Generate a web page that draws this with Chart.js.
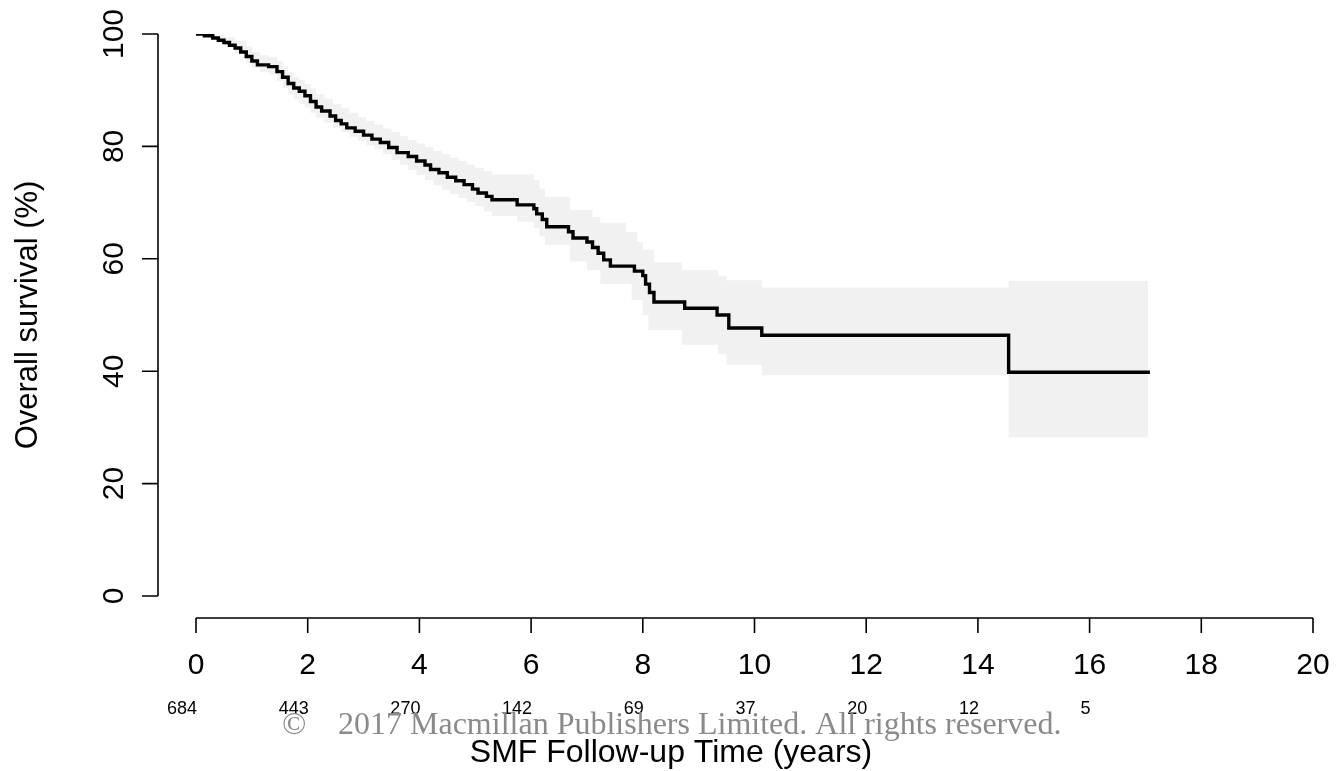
<!DOCTYPE html>
<html>
<head>
<meta charset="utf-8">
<title>Overall survival</title>
<script src="https://cdn.jsdelivr.net/npm/chart.js@4.4.1/dist/chart.umd.min.js"></script>
<style>
    body { margin: 0; background: #ffffff; }
    canvas { display: block; }
</style>
</head>
<body>
<canvas id="SurvivalChart" width="1340" height="771"></canvas>
<script>
// Kaplan-Meier step points (years, %)
var kmTimes = [0, 0.15, 0.3, 0.4, 0.5, 0.6, 0.7, 0.8, 0.9, 1.0, 1.1, 1.3, 1.45, 1.55, 1.65, 1.75, 1.85, 1.95,
    2.05, 2.15, 2.25, 2.4, 2.5, 2.6, 2.7, 2.85, 3.0, 3.15, 3.3, 3.45, 3.6, 3.8, 3.95, 4.1, 4.2, 4.35, 4.5,
    4.65, 4.8, 4.95, 5.05, 5.2, 5.3, 5.75, 6.05, 6.1, 6.2, 6.28, 6.67, 6.75, 7.0, 7.1, 7.2, 7.3, 7.42,
    7.85, 8.0, 8.05, 8.12, 8.2, 8.75, 9.33, 9.54, 10.13, 14.55, 17.08];
var kmSurv = [100, 99.7, 99.3, 98.9, 98.5, 98.0, 97.5, 96.8, 96.0, 95.2, 94.5, 94.2, 93.3, 92.3, 91.2, 90.4, 89.8, 89.0,
    88.0, 87.0, 86.3, 85.4, 84.6, 84.0, 83.3, 82.7, 82.0, 81.3, 80.7, 79.8, 78.9, 78.2, 77.4, 76.7, 75.9, 75.3, 74.5,
    73.9, 73.2, 72.4, 71.7, 71.1, 70.5, 69.6, 68.9, 68.0, 67.0, 65.7, 64.8, 63.7, 63.0, 62.0, 61.0, 59.8, 58.7,
    57.8, 57.0, 55.5, 54.0, 52.3, 51.2, 50.0, 47.7, 46.4, 39.8, 39.8];

// 95% confidence band
var upperTimes = [0, 0.3, 0.5, 0.7, 0.9, 1.0, 1.15, 1.3, 1.45, 1.55, 1.65, 1.75, 1.85, 1.95, 2.05, 2.15, 2.3,
    2.45, 2.6, 2.75, 2.9, 3.05, 3.2, 3.35, 3.5, 3.65, 3.8, 3.95, 4.1, 4.25, 4.4, 4.55, 4.7, 4.85, 5.0, 5.15,
    5.3, 6.05, 6.15, 6.25, 6.7, 7.1, 7.24, 7.7, 7.9, 8.0, 8.2, 8.7, 9.35, 9.5, 10.13, 14.55, 17.05];
var upperSurv = [100, 99.8, 99.4, 98.8, 97.8, 96.8, 96.2, 95.9, 95.2, 94.2, 93.2, 92.4, 91.8, 91.1, 90.3, 89.3, 88.5,
    87.6, 86.8, 86.0, 85.2, 84.5, 83.9, 83.2, 82.5, 81.8, 81.1, 80.5, 79.9, 79.2, 78.6, 78.0, 77.4, 76.8, 76.2, 75.6,
    75.0, 74.0, 72.5, 71.0, 68.7, 67.5, 66.4, 64.8, 63.0, 61.6, 59.4, 58.0, 57.0, 56.2, 54.9, 56.1, 56.1];
var lowerTimes = [0, 0.3, 0.5, 0.7, 0.9, 1.0, 1.15, 1.3, 1.45, 1.55, 1.65, 1.75, 1.85, 1.95, 2.05, 2.15, 2.3,
    2.45, 2.6, 2.75, 2.9, 3.05, 3.2, 3.35, 3.5, 3.65, 3.8, 3.95, 4.1, 4.25, 4.4, 4.55, 4.7, 4.85, 5.0, 5.15,
    5.3, 5.75, 6.05, 6.15, 6.25, 6.7, 7.0, 7.24, 7.8, 8.0, 8.1, 8.7, 9.35, 9.5, 10.13, 14.55, 17.05];
var lowerSurv = [100, 99.0, 98.0, 96.6, 94.8, 94.0, 93.2, 92.8, 91.6, 90.4, 89.2, 88.4, 87.6, 86.9, 86.0, 85.1, 84.2,
    83.3, 82.5, 81.7, 81.0, 80.2, 79.5, 78.6, 77.6, 76.7, 75.8, 74.9, 74.0, 73.1, 72.3, 71.5, 70.8, 70.1, 69.4, 68.4,
    67.6, 66.6, 65.5, 64.0, 62.5, 59.5, 58.0, 55.5, 52.7, 50.0, 47.3, 44.7, 43.0, 41.1, 39.3, 28.2, 28.2];

// axes and numbers at risk
var xTicks = [0, 2, 4, 6, 8, 10, 12, 14, 16, 18, 20];
var yTicks = [0, 20, 40, 60, 80, 100];
var riskTimes = [0, 2, 4, 6, 8, 10, 12, 14, 16];
var atRisk = [684, 443, 270, 142, 69, 37, 20, 12, 5];

function toPoints(xs, ys) {
    return xs.map((x, i) => ({ x: x, y: ys[i] }));
}

let sansFont = '"Liberation Sans", Arial, Helvetica, sans-serif';
let serifFont = '"Liberation Serif", "Times New Roman", serif';

// R style detached axes, drawn from the chart scales
var baseAxes = {
    id: 'baseAxes',
    afterDraw(chart) {
        let ctx = chart.ctx;
        let xs = chart.scales.x;
        let ys = chart.scales.y;
        let axisY = 618;
        let axisX = 158;
        ctx.save();
        ctx.strokeStyle = '#000000';
        ctx.fillStyle = '#000000';
        ctx.lineWidth = 1.6;

        // x axis
        ctx.beginPath();
        ctx.moveTo(xs.getPixelForValue(0), axisY);
        ctx.lineTo(xs.getPixelForValue(20), axisY);
        xTicks.forEach(t => {
            let px = xs.getPixelForValue(t);
            ctx.moveTo(px, axisY);
            ctx.lineTo(px, axisY + 15);
        });
        ctx.stroke();

        ctx.font = '30px ' + sansFont;
        ctx.textAlign = 'center';
        ctx.textBaseline = 'middle';
        xTicks.forEach(t => {
            ctx.fillText(String(t), xs.getPixelForValue(t), 666);
        });

        // y axis
        ctx.beginPath();
        ctx.moveTo(axisX, ys.getPixelForValue(0));
        ctx.lineTo(axisX, ys.getPixelForValue(100));
        yTicks.forEach(v => {
            let py = ys.getPixelForValue(v);
            ctx.moveTo(axisX, py);
            ctx.lineTo(axisX - 16, py);
        });
        ctx.stroke();

        yTicks.forEach(v => {
            ctx.save();
            ctx.translate(115, ys.getPixelForValue(v));
            ctx.rotate(-Math.PI / 2);
            ctx.fillText(String(v), 0, 0);
            ctx.restore();
        });

        // axis titles
        ctx.font = '31px ' + sansFont;
        ctx.save();
        ctx.translate(28, 315);
        ctx.rotate(-Math.PI / 2);
        ctx.fillText('Overall survival (%)', 0, 0);
        ctx.restore();

        // numbers at risk
        ctx.font = '18px ' + sansFont;
        ctx.textAlign = 'right';
        riskTimes.forEach((t, i) => {
            ctx.fillText(String(atRisk[i]), xs.getPixelForValue(t) + 1, 709);
        });

        // copyright overlay
        ctx.font = '32px ' + serifFont;
        ctx.fillStyle = '#8a8a8a';
        ctx.textAlign = 'left';
        ctx.textBaseline = 'alphabetic';
        ctx.fillText('\u00a9', 282, 734);
        ctx.fillText('2017 Macmillan Publishers Limited. All rights reserved.', 338, 734);

        ctx.fillStyle = '#000000';
        ctx.font = '32px ' + sansFont;
        ctx.textAlign = 'center';
        ctx.fillText('SMF Follow-up Time (years)', 671, 762);
        ctx.restore();
    }
};

var survival = document.getElementById('SurvivalChart').getContext('2d');
var myLineChart = new Chart(survival, {
    type: 'line',
    data: {
        datasets: [{
            label: 'Overall survival',
            data: toPoints(kmTimes, kmSurv),
            borderColor: '#000000',
            borderWidth: 3.4,
            pointRadius: 0,
            stepped: true,
            fill: false,
            order: 0
        }, {
            label: 'Upper CI',
            data: toPoints(upperTimes, upperSurv),
            borderWidth: 0,
            borderColor: 'rgba(0,0,0,0)',
            backgroundColor: '#f1f1f1',
            pointRadius: 0,
            stepped: true,
            fill: '+1',
            order: 1
        }, {
            label: 'Lower CI',
            data: toPoints(lowerTimes, lowerSurv),
            borderWidth: 0,
            borderColor: 'rgba(0,0,0,0)',
            pointRadius: 0,
            stepped: true,
            fill: false,
            order: 2
        }]
    },
    options: {
        responsive: false,
        animation: false,
        devicePixelRatio: 1,
        layout: {
            padding: { left: 196, right: 27, top: 34, bottom: 175 }
        },
        plugins: {
            legend: { display: false },
            tooltip: { enabled: false }
        },
        scales: {
            x: { type: 'linear', min: 0, max: 20, display: false },
            y: { min: 0, max: 100, display: false }
        }
    },
    plugins: [baseAxes]
});
</script>
</body>
</html>
